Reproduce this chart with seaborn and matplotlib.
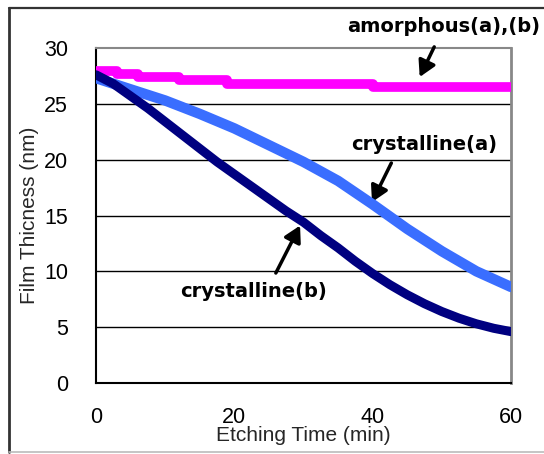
import numpy as np
import pandas as pd
import matplotlib
matplotlib.use("Agg")
import matplotlib.pyplot as plt
import seaborn as sns

# ---- data ----
t_a = [0, 5, 10, 15, 20, 25, 30, 35, 40, 45, 50, 55, 60]
cryst_a = [27.3, 26.3, 25.3, 24.1, 22.8, 21.3, 19.8, 18.1, 16.0, 13.8, 11.8, 10.0, 8.6]

t_b = [0, 2.5, 5, 7.5, 10, 12.5, 15, 17.5, 20, 22.5, 25, 27.5, 30,
       32.5, 35, 37.5, 40, 42.5, 45, 47.5, 50, 52.5, 55, 57.5, 60]
cryst_b = [27.6, 26.8, 25.7, 24.6, 23.4, 22.2, 21.0, 19.8, 18.7, 17.6, 16.5, 15.4, 14.4,
           13.2, 12.1, 10.9, 9.8, 8.8, 7.9, 7.1, 6.4, 5.8, 5.3, 4.9, 4.6]

amor_t = [0, 3, 6, 12, 19, 40, 60]
amor_v = [27.9, 27.7, 27.4, 27.1, 26.8, 26.5, 26.5]

x_ticks = [0, 20, 40, 60]
y_ticks = [0, 5, 10, 15, 20, 25, 30]

sns.set_theme(style="white")
plt.rcParams['font.family'] = ['Liberation Sans', 'DejaVu Sans']

fig = plt.figure(figsize=(5.44, 4.54), dpi=100)
ax = fig.add_axes([96/544, 1-383/454, 415/544, 335/454])

# outer frame (left, top, bottom)
fig.add_artist(plt.Line2D([8.5/544, 8.5/544], [2/454, 1-7.5/454], transform=fig.transFigure,
                          color='#333333', linewidth=2))
fig.add_artist(plt.Line2D([8.5/544, 1], [1-7.5/454, 1-7.5/454], transform=fig.transFigure,
                          color='#333333', linewidth=1.6))
fig.add_artist(plt.Line2D([8.5/544, 1], [2/454, 2/454], transform=fig.transFigure,
                          color='#bbbbbb', linewidth=1.2))

for yv in [5, 10, 15, 20, 25]:
    ax.axhline(yv, color='black', linewidth=1.0, zorder=1)

df_a = pd.DataFrame({'t': t_a, 'v': cryst_a})
df_b = pd.DataFrame({'t': t_b, 'v': cryst_b})
df_m = pd.DataFrame({'t': amor_t, 'v': amor_v})

sns.lineplot(data=df_m, x='t', y='v', ax=ax, color='#FF00FF', linewidth=7,
             drawstyle='steps-post', zorder=3)
sns.lineplot(data=df_a, x='t', y='v', ax=ax, color='#3A6EFF', linewidth=7.5,
             zorder=4)
sns.lineplot(data=df_b, x='t', y='v', ax=ax, color='#000080', linewidth=6.5,
             zorder=5)

ax.set_xlim(0, 60)
ax.set_ylim(0, 30)
ax.set_xticks(x_ticks)
ax.set_yticks(y_ticks)
ax.tick_params(axis='x', direction='in', length=6, width=1.2, color='#555555',
               labelsize=15.5, pad=17)
ax.tick_params(axis='y', direction='in', length=0, labelsize=15.5, pad=20)
for lab in ax.get_xticklabels() + ax.get_yticklabels():
    lab.set_color('black')

ax.set_xlabel('Etching Time (min)', fontsize=15, labelpad=-1)
ax.set_ylabel('Film Thicness (nm)', fontsize=15, labelpad=4)

ax.spines['left'].set_color('black')
ax.spines['bottom'].set_color('black')
ax.spines['left'].set_linewidth(1.5)
ax.spines['bottom'].set_linewidth(1.5)
ax.spines['top'].set_color('#888888')
ax.spines['right'].set_color('#888888')
ax.spines['top'].set_linewidth(1.5)
ax.spines['right'].set_linewidth(2)
ax.grid(False)

txt_kw = dict(fontsize=14, fontweight='bold', ha='center', va='center', color='black',
              family=['DejaVu Sans'])
ax.text(50.3, 31.9, 'amorphous(a),(b)', clip_on=False, **txt_kw)
ax.text(47.5, 21.4, 'crystalline(a)', **txt_kw)
ax.text(22.7, 8.15, 'crystalline(b)', **txt_kw)

arr = dict(arrowstyle='-|>,head_length=0.8,head_width=0.45', color='black', linewidth=2.5,
           shrinkA=0, shrinkB=0)
ax.annotate('', xy=(46.8, 27.4), xytext=(48.9, 30.1), arrowprops=arr, annotation_clip=False)
ax.annotate('', xy=(39.9, 16.2), xytext=(42.7, 19.7), arrowprops=arr)
ax.annotate('', xy=(29.5, 14.1), xytext=(26.0, 9.85), arrowprops=arr)

fig.savefig('out.png', dpi=100)
